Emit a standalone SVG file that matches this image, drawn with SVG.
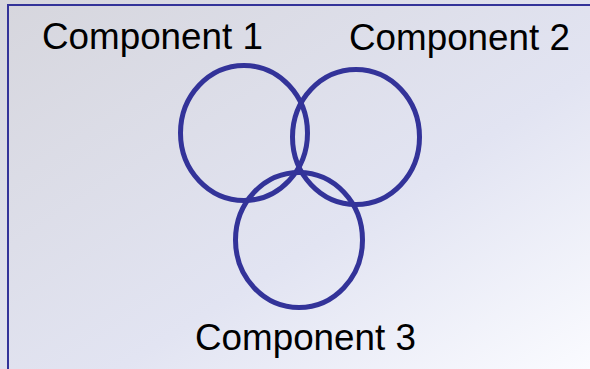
<svg xmlns="http://www.w3.org/2000/svg" width="590" height="369" viewBox="0 0 590 369">
  <defs>
    <linearGradient id="bg" x1="0" y1="0" x2="1" y2="1">
      <stop offset="0" stop-color="#d6d6dd"/>
      <stop offset="0.6" stop-color="#e2e4f2"/>
      <stop offset="1" stop-color="#fafbff"/>
    </linearGradient>
    <style>
      .ring { fill: none; stroke: #333399; stroke-width: 5; }
      .label { font-family: "Liberation Sans", Arial, sans-serif; font-size: 36.8px; fill: #000000; }
    </style>
  </defs>
  <rect x="0" y="0" width="590" height="369" fill="url(#bg)"/>
  <rect x="8" y="5" width="590" height="380" fill="none" stroke="#333399" stroke-width="2"/>
  <g id="component-1">
    <ellipse class="ring" cx="244" cy="133" rx="63.5" ry="67.5"/>
    <text class="label" x="42" y="49">Component 1</text>
  </g>
  <g id="component-2">
    <ellipse class="ring" cx="356" cy="137" rx="63.5" ry="67.5"/>
    <text class="label" x="349" y="50">Component 2</text>
  </g>
  <g id="component-3">
    <ellipse class="ring" cx="299" cy="240" rx="63.5" ry="67.5"/>
    <text class="label" x="195" y="350">Component 3</text>
  </g>
  <g id="connectors"/>
</svg>
